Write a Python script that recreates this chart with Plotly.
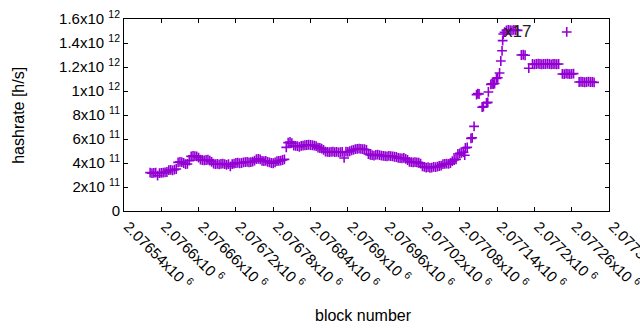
import plotly.graph_objects as go

# ---------------- data ----------------
BLOCK_BASE = 2076540  # block numbers are stored as offsets from this base

block_offset = [
    42, 45, 48, 51, 54, 57, 60, 63, 66, 69, 72, 75, 78, 81, 84, 87, 90, 93, 96, 99,
    102, 105, 108, 111, 114, 117, 120, 123, 126, 129, 132, 135, 138, 141, 144, 147, 150, 153, 156, 159,
    162, 165, 168, 171, 174, 177, 180, 183, 186, 189, 192, 195, 198, 201, 204, 207, 210, 213, 216, 219,
    222, 225, 228, 231, 234, 237, 240, 243, 246, 249, 252, 255, 258, 261, 264, 267, 270, 273, 276, 279,
    282, 285, 288, 291, 294, 297, 300, 303, 306, 309, 312, 315, 318, 321, 324, 327, 330, 333, 336, 339,
    342, 345, 348, 351, 354, 357, 360, 363, 366, 369, 372, 375, 378, 381, 384, 387, 390, 393, 396, 399,
    402, 405, 408, 411, 414, 417, 420, 423, 426, 429, 432, 435, 438, 441, 444, 447, 450, 453, 456, 459,
    462, 465, 468, 471, 474, 477, 480, 483, 486, 489, 492, 495, 498, 501, 504, 507, 510, 513, 516, 519,
    522, 525, 528, 531, 534, 537, 540, 543, 546, 548, 549, 552,
    558, 560, 563, 567, 569, 571, 576, 578, 583, 585, 586, 590, 592, 594, 596, 599, 601, 604, 606, 608,
    609, 610,
    612, 615, 618, 621, 624, 627, 630, 633, 639, 642, 645, 651, 657, 660, 663, 666, 669, 672, 675, 678,
    681, 684, 687, 690, 693, 696, 699, 705, 708, 711, 712, 714, 717, 720, 723, 732, 735, 738, 741, 744,
    747, 750, 753, 756,
]

hashrate_e11 = [
    3.20, 3.15, 3.17, 3.20, 2.95, 3.15, 3.18, 3.20, 3.22, 3.25, 3.40, 3.42, 3.38, 3.45, 3.50, 4.05, 4.10, 4.08, 4.00, 3.90,
    3.92, 4.20, 4.55, 4.60, 4.58, 4.55, 4.45, 4.28, 4.25, 4.22, 4.25, 4.27, 4.20, 4.10, 3.95, 3.90, 3.92, 3.88, 3.92, 3.95,
    3.90, 3.85, 3.90, 3.72, 3.90, 3.95, 4.00, 4.02, 3.98, 4.00, 4.05, 4.08, 4.10, 4.05, 4.08, 4.12, 4.20, 4.33, 4.35, 4.30,
    4.17, 4.15, 4.18, 4.10, 4.05, 4.00, 3.98, 4.05, 4.15, 4.17, 4.20, 4.25, 4.30, 5.30, 5.70, 5.75, 5.65, 5.45, 5.42, 5.40,
    5.35, 5.42, 5.45, 5.48, 5.50, 5.52, 5.50, 5.48, 5.45, 5.40, 5.28, 5.25, 5.20, 5.10, 4.95, 4.92, 4.90, 4.92, 4.95, 4.90,
    4.92, 4.88, 4.90, 4.92, 4.42, 4.95, 4.92, 4.98, 5.05, 5.10, 5.15, 5.17, 5.20, 5.17, 5.15, 5.15, 5.10, 4.75, 4.68, 4.65,
    4.62, 4.67, 4.70, 4.65, 4.62, 4.60, 4.58, 4.55, 4.60, 4.58, 4.55, 4.52, 4.50, 4.42, 4.40, 4.38, 4.42, 4.35, 4.25, 4.10,
    4.08, 4.05, 4.08, 4.05, 4.02, 3.95, 3.72, 3.67, 3.62, 3.65, 3.60, 3.62, 3.67, 3.65, 3.70, 3.75, 3.78, 3.90, 3.92, 3.95,
    3.92, 4.00, 4.15, 4.25, 4.30, 4.75, 4.80, 4.85, 4.90, 4.65, 5.25, 5.30,
    6.05, 6.10, 7.05, 9.70, 9.78, 9.75, 8.65, 8.70, 9.00, 9.05, 9.92, 10.55, 10.60, 10.58, 10.62, 11.05, 11.10, 11.50, 12.50, 13.35,
    14.20, 14.75,
    14.90, 15.05, 15.10, 15.08, 15.05, 15.10, 15.08, 15.05, 13.00, 13.02, 12.98, 11.90, 12.25, 12.22, 12.25, 12.27, 12.25, 12.23, 12.25, 12.25,
    12.27, 12.25, 12.22, 12.25, 12.25, 12.23, 12.25, 11.42, 11.40, 11.45, 14.92, 11.42, 11.40, 11.42, 11.45, 10.75, 10.77, 10.75, 10.73, 10.75,
    10.78, 10.75, 10.75, 10.72,
]

x_tick_blocks = [2076540, 2076600, 2076660, 2076720, 2076780, 2076840, 2076900,
                 2076960, 2077020, 2077080, 2077140, 2077200, 2077260, 2077320]
x_tick_labels = ["2.07654x10 <sup>6</sup>", "2.0766x10 <sup>6</sup>", "2.07666x10 <sup>6</sup>",
                 "2.07672x10 <sup>6</sup>", "2.07678x10 <sup>6</sup>", "2.07684x10 <sup>6</sup>",
                 "2.0769x10 <sup>6</sup>", "2.07696x10 <sup>6</sup>", "2.07702x10 <sup>6</sup>",
                 "2.07708x10 <sup>6</sup>", "2.07714x10 <sup>6</sup>", "2.0772x10 <sup>6</sup>",
                 "2.07726x10 <sup>6</sup>", "2.07732x10 <sup>6</sup>"]
y_tick_values = [0, 2e11, 4e11, 6e11, 8e11, 1e12, 1.2e12, 1.4e12, 1.6e12]
y_tick_labels = ["0", "2x10 <sup>11</sup>", "4x10 <sup>11</sup>", "6x10 <sup>11</sup>",
                 "8x10 <sup>11</sup>", "1x10 <sup>12</sup>", "1.2x10 <sup>12</sup>",
                 "1.4x10 <sup>12</sup>", "1.6x10 <sup>12</sup>"]

blocks = [BLOCK_BASE + o for o in block_offset]
hashrate = [v * 1e11 for v in hashrate_e11]

FONT = "Liberation Sans, Arial, sans-serif"

fig = go.Figure()
fig.add_trace(go.Scatter(
    x=blocks, y=hashrate, mode="markers",
    marker=dict(symbol="cross-thin", size=7, color="#9400D3",
                line=dict(color="#9400D3", width=1.6)),
    showlegend=False, hoverinfo="skip",
))

axis_common = dict(showline=True, linecolor="black", linewidth=1, mirror="allticks",
                   ticks="inside", ticklen=4, tickcolor="black", showgrid=False,
                   zeroline=False, tickfont=dict(family=FONT, size=15, color="black"))

fig.update_layout(
    width=640, height=330,
    margin=dict(l=124, r=31, t=19, b=119, autoexpand=False),
    paper_bgcolor="white", plot_bgcolor="white",
    font=dict(family=FONT, size=15, color="black"),
    xaxis=dict(range=[x_tick_blocks[0], x_tick_blocks[-1]], tickmode="array",
               tickvals=x_tick_blocks, ticktext=x_tick_labels, tickangle=45,
               ticklabeloverflow="allow", ticklabelshift=4,
               automargin=False, **axis_common),
    yaxis=dict(range=[y_tick_values[0], y_tick_values[-1]], tickmode="array",
               tickvals=y_tick_values, ticktext=y_tick_labels,
               automargin=False, **axis_common),
    annotations=[
        dict(text="block number", xref="paper", yref="paper", x=0.493, y=-0.542,
             showarrow=False, font=dict(family=FONT, size=16, color="black"),
             xanchor="center", yanchor="middle"),
        dict(text="hashrate [h/s]", xref="paper", yref="paper", x=-0.219, y=0.5,
             textangle=-90, showarrow=False,
             font=dict(family=FONT, size=16, color="black"),
             xanchor="center", yanchor="middle"),
        dict(text="x17", xref="paper", yref="paper", x=0.812, y=0.9375,
             showarrow=False, font=dict(family=FONT, size=17, color="#222222"),
             xanchor="center", yanchor="middle"),
    ],
)

fig.write_html("out.html", config={"displayModeBar": False},
               post_script="document.body.style.margin='0';document.body.style.padding='0';")
